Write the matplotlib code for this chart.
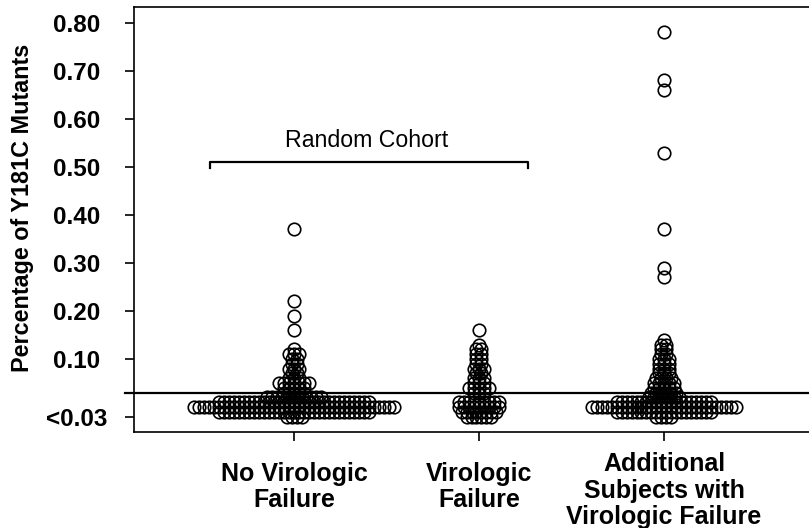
import numpy as np
import matplotlib.pyplot as plt

plt.rcParams['font.family'] = ['Liberation Sans', 'DejaVu Sans']

# categories along x
groups = ['No Virologic\nFailure', 'Virologic\nFailure',
          'Additional\nSubjects with\nVirologic Failure']

# percentage levels and number of subjects at each level
# (levels at or below 0.02 are the "<0.03" subjects, spread over a few rows)
nvf_levels = [0.37, 0.22, 0.19, 0.16, 0.12, 0.11, 0.10, 0.09, 0.08, 0.07, 0.06, 0.05, 0.04, 0.03,
              0.02, 0.01, 0.00, -0.01, -0.02]
nvf_counts = [1, 1, 1, 1, 1, 3, 2, 2, 3, 2, 3, 7, 5, 5,
              12, 31, 41, 31, 4]

vf_levels = [0.16, 0.13, 0.12, 0.11, 0.10, 0.09, 0.08, 0.07, 0.06, 0.05, 0.04, 0.03,
             0.01, 0.00, -0.01, -0.02]
vf_counts = [1, 1, 2, 2, 2, 2, 3, 2, 3, 3, 5, 3,
             9, 9, 8, 6]

add_levels = [0.78, 0.68, 0.66, 0.53, 0.37, 0.29, 0.27, 0.14, 0.13, 0.12, 0.11, 0.10, 0.09,
              0.08, 0.07, 0.06, 0.05, 0.04, 0.03, 0.02, 0.01, 0.00, -0.01, -0.02]
add_counts = [1, 1, 1, 1, 1, 1, 1, 1, 2, 2, 2, 3, 3,
              3, 3, 4, 5, 5, 6, 7, 20, 30, 20, 4]

lod = 0.03  # detection limit
ytick_vals = [-0.02, 0.03, 0.10, 0.20, 0.30, 0.40, 0.50, 0.60, 0.70, 0.80]
ytick_labels = ['<0.03', '', '0.10', '0.20', '0.30', '0.40', '0.50', '0.60', '0.70', '0.80']


def rows(center, levels, counts, step=0.027):
    # lay out each level as a centred horizontal row of points
    xs, ys = [], []
    for v, n in zip(levels, counts):
        off = (np.arange(n) - (n - 1) / 2) * step
        xs.extend(center + off)
        ys.extend([v] * n)
    return xs, ys


fig = plt.figure(figsize=(8.09, 5.28), dpi=100)
ax = fig.add_axes([134 / 809, 96 / 528, 675 / 809, 425 / 528])

for i, (lv, ct) in enumerate([(nvf_levels, nvf_counts), (vf_levels, vf_counts),
                              (add_levels, add_counts)]):
    xs, ys = rows(i + 1, lv, ct)
    ax.plot(xs, ys, 'o', ms=9, mfc='none', mec='black', mew=1.2)

# detection limit line
ax.axhline(lod, xmin=-0.0135, xmax=1, color='black', lw=1.6, clip_on=False)

# bracket over the random cohort
bx0, bx1, by, bdrop = 0.546, 2.265, 0.51, 0.012
ax.plot([bx0, bx0, bx1, bx1], [by - bdrop, by, by, by - bdrop], color='black', lw=1.6)
ax.text(1.395, 0.556, 'Random Cohort', ha='center', va='center', fontsize=16.7)

ax.set_xlim(0.135, 3.784)
ax.set_ylim(-0.052, 0.833)
ax.set_xticks([1, 2, 3])
ax.set_xticklabels([])
for i, g in enumerate(groups):
    ax.text(i + 1, -0.13 if i < 2 else -0.138, g, transform=ax.get_xaxis_transform(),
            ha='center', va='center', fontsize=18, fontweight='bold', linespacing=1.12)

ax.set_yticks(ytick_vals)
ax.set_yticklabels(ytick_labels, fontsize=17.5, fontweight='bold', ha='center')
ax.set_ylabel('Percentage of Y181C Mutants', fontsize=16.8, fontweight='bold')
ax.yaxis.set_label_coords(-100 / 675, (432 - 208) / 425)

ax.spines['right'].set_visible(False)
for s in ['left', 'bottom', 'top']:
    ax.spines[s].set_linewidth(1.2)
ax.tick_params(length=6.5, width=1.2)
ax.tick_params(axis='y', pad=35)

fig.savefig('out.png', dpi=100)
